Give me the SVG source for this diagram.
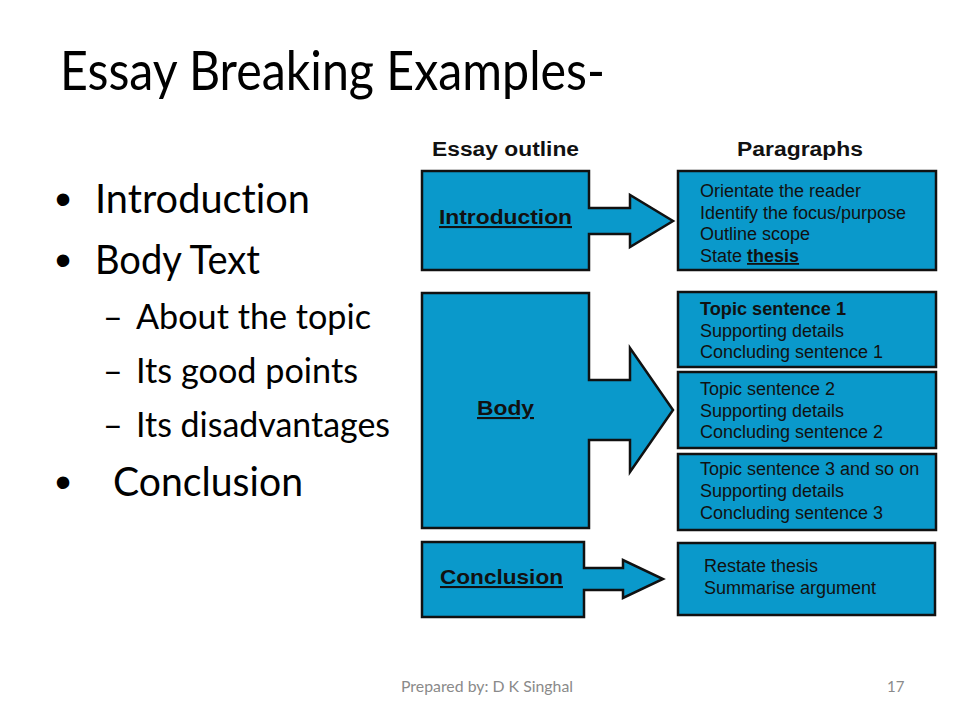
<svg xmlns="http://www.w3.org/2000/svg" width="960" height="720" viewBox="0 0 960 720">
<style>
.slide{font-family:Lato,"Open Sans","DejaVu Sans",sans-serif;fill:#000;font-variant-ligatures:none}
.title{font-size:55px}
.l1{font-size:40px}
.l2{font-size:34px}
.bul{font-family:"Liberation Sans",Arial,sans-serif;font-size:46px;fill:#000}
.shape{fill:#0A99CB;stroke:#111;stroke-width:2.5;stroke-linejoin:miter}
.hd{font-family:"Liberation Sans",Arial,sans-serif;font-weight:bold;font-size:20px;fill:#111}
.lbl{font-family:"Liberation Sans",Arial,sans-serif;font-weight:bold;font-size:21px;fill:#111;text-decoration:underline}
.pt{font-family:"Liberation Sans",Arial,sans-serif;font-size:18px;fill:#111}
.foot{font-family:Lato,"Open Sans",sans-serif;font-size:15px;fill:#8a8a8a;font-variant-ligatures:none}
</style>
<rect width="960" height="720" fill="#fff"/>
<g id="slide-text" class="slide">
<text class="title" x="60" y="90" textLength="545" lengthAdjust="spacingAndGlyphs">Essay Breaking Examples-</text>
<text class="bul" x="55" y="215">•</text>
<text class="l1" x="95" y="213" textLength="215" lengthAdjust="spacingAndGlyphs">Introduction</text>
<text class="bul" x="55" y="276">•</text>
<text class="l1" x="95" y="274" textLength="165" lengthAdjust="spacingAndGlyphs">Body Text</text>
<text class="l2" x="103" y="329">–</text>
<text class="l2" x="136" y="329" textLength="235" lengthAdjust="spacingAndGlyphs">About the topic</text>
<text class="l2" x="103" y="383">–</text>
<text class="l2" x="136" y="383" textLength="222" lengthAdjust="spacingAndGlyphs">Its good points</text>
<text class="l2" x="103" y="437">–</text>
<text class="l2" x="136" y="437" textLength="254" lengthAdjust="spacingAndGlyphs">Its disadvantages</text>
<text class="bul" x="55" y="498">•</text>
<text class="l1" x="113" y="496" textLength="190" lengthAdjust="spacingAndGlyphs">Conclusion</text>
</g>
<g id="headings">
<text class="hd" x="432" y="156" textLength="147" lengthAdjust="spacingAndGlyphs">Essay outline</text>
<text class="hd" x="737" y="156" textLength="126" lengthAdjust="spacingAndGlyphs">Paragraphs</text>
</g>
<g id="connectors">
<!-- arrows are part of the outline shapes -->
</g>
<g id="outline-introduction">
<path class="shape" d="M422,171 H589 V208 H630 V195 L673,221 L630,247 V234 H589 V270 H422 Z"/>
<text class="lbl" x="439" y="224" textLength="133" lengthAdjust="spacingAndGlyphs">Introduction</text>
</g>
<g id="outline-body">
<path class="shape" d="M422,293 H589 V380 H630 V348 L673,410 L630,472 V440 H589 V528 H422 Z"/>
<text class="lbl" x="477" y="415" textLength="57" lengthAdjust="spacingAndGlyphs">Body</text>
</g>
<g id="outline-conclusion">
<path class="shape" d="M422,542 H584 V568 H623 V560 L663,579 L623,598 V590 H584 V617 H422 Z"/>
<text class="lbl" x="440" y="584" textLength="123" lengthAdjust="spacingAndGlyphs">Conclusion</text>
</g>
<g id="para-introduction">
<rect class="shape" x="678" y="171" width="258" height="99"/>
<text class="pt" x="700" y="197">Orientate the reader</text>
<text class="pt" x="700" y="219">Identify the focus/purpose</text>
<text class="pt" x="700" y="240">Outline scope</text>
<text class="pt" x="700" y="262">State <tspan font-weight="bold" text-decoration="underline">thesis</tspan></text>
</g>
<g id="para-body-1">
<rect class="shape" x="678" y="292" width="258" height="75"/>
<text class="pt" x="700" y="315" font-weight="bold" textLength="146" lengthAdjust="spacingAndGlyphs">Topic sentence 1</text>
<text class="pt" x="700" y="337">Supporting details</text>
<text class="pt" x="700" y="358">Concluding sentence 1</text>
</g>
<g id="para-body-2">
<rect class="shape" x="678" y="372" width="258" height="76"/>
<text class="pt" x="700" y="395">Topic sentence 2</text>
<text class="pt" x="700" y="417">Supporting details</text>
<text class="pt" x="700" y="438">Concluding sentence 2</text>
</g>
<g id="para-body-3">
<rect class="shape" x="678" y="454" width="258" height="76"/>
<text class="pt" x="700" y="475">Topic sentence 3 and so on</text>
<text class="pt" x="700" y="497">Supporting details</text>
<text class="pt" x="700" y="519">Concluding sentence 3</text>
</g>
<g id="para-conclusion">
<rect class="shape" x="678" y="543" width="257" height="72"/>
<text class="pt" x="704" y="572">Restate thesis</text>
<text class="pt" x="704" y="594">Summarise argument</text>
</g>
<g id="footer">
<text class="foot" x="401" y="692" textLength="172" lengthAdjust="spacingAndGlyphs">Prepared by: D K Singhal</text>
<text class="foot" x="887" y="692">17</text>
</g>
</svg>
